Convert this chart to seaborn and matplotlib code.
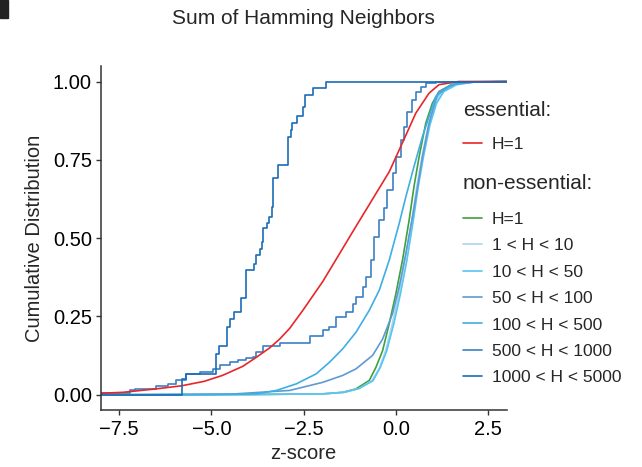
import matplotlib
matplotlib.use('Agg')
import matplotlib.pyplot as plt
import seaborn as sns
from matplotlib.lines import Line2D
from matplotlib.patches import Rectangle

# values (z-score, cumulative fraction)
ess_h1_x = [-8.0, -7.4, -6.5, -5.8, -5.2, -4.7, -4.15, -3.78, -3.42, -3.15, -2.88, -2.52, -1.98,
            -1.53, -1.08, -0.63, -0.18, 0.18, 0.54, 0.90, 1.17, 1.7, 3.0]
ess_h1_y = [0.005, 0.008, 0.019, 0.029, 0.043, 0.062, 0.091, 0.120, 0.150, 0.178, 0.212, 0.270, 0.362,
            0.450, 0.538, 0.625, 0.712, 0.805, 0.899, 0.963, 0.99, 1.0, 1.0]

non_h1_x = [-8.0, -4.0, -1.98, -1.44, -1.08, -0.72, -0.54, -0.36, -0.18, 0.0, 0.18, 0.36, 0.49,
            0.63, 0.81, 0.99, 1.17, 1.5, 2.0, 3.0]
non_h1_y = [0.0, 0.001, 0.003, 0.008, 0.019, 0.046, 0.088, 0.141, 0.227, 0.323, 0.430, 0.558, 0.664,
            0.760, 0.867, 0.931, 0.968, 0.99, 0.998, 1.0]

h1_10_x = [-8.0, -4.0, -2.0, -1.4, -1.0, -0.65, -0.45, -0.28, -0.10, 0.08, 0.25, 0.43, 0.56,
           0.70, 0.88, 1.06, 1.25, 1.6, 2.1, 3.0]
h1_10_y = [0.0, 0.001, 0.003, 0.008, 0.020, 0.045, 0.085, 0.140, 0.225, 0.320, 0.430, 0.555, 0.660,
           0.755, 0.860, 0.930, 0.968, 0.99, 0.998, 1.0]

h10_50_x = [-8.0, -4.0, -2.0, -1.4, -1.0, -0.62, -0.42, -0.25, -0.06, 0.12, 0.30, 0.47, 0.60,
            0.74, 0.92, 1.10, 1.30, 1.65, 2.1, 3.0]
h10_50_y = [0.0, 0.001, 0.003, 0.008, 0.020, 0.045, 0.088, 0.140, 0.225, 0.320, 0.430, 0.555, 0.660,
            0.755, 0.860, 0.930, 0.968, 0.99, 0.998, 1.0]

h50_100_x = [-8.0, -4.5, -2.88, -1.98, -1.44, -1.08, -0.63, -0.36, -0.09, 0.09, 0.27, 0.45, 0.59,
             0.72, 0.90, 1.08, 1.17, 1.6, 2.2, 3.0]
h50_100_y = [0.0, 0.002, 0.014, 0.040, 0.062, 0.083, 0.126, 0.178, 0.259, 0.344, 0.451, 0.568, 0.664,
             0.760, 0.867, 0.941, 0.968, 0.992, 0.999, 1.0]

h100_500_x = [-8.0, -5.0, -3.78, -3.24, -2.70, -2.16, -1.80, -1.44, -1.08, -0.72, -0.45, -0.18, 0.09,
              0.27, 0.49, 0.72, 1.08, 1.5, 2.0, 3.0]
h100_500_y = [0.0, 0.001, 0.003, 0.014, 0.035, 0.067, 0.104, 0.147, 0.200, 0.270, 0.334, 0.430, 0.547,
              0.632, 0.728, 0.824, 0.952, 0.99, 0.999, 1.0]

# step curves: position of each jump and value after it
h500_1000_x = [-8.0, -7.21, -7.07, -6.49, -6.17, -5.95, -5.68, -5.32, -4.96, -4.78, -4.51, -4.28, -4.05,
               -3.88, -3.78, -3.60, -3.15, -2.66, -2.34, -1.98, -1.80, -1.62, -1.35, -1.17, -1.08,
               -0.90, -0.81, -0.68, -0.59, -0.45, -0.32, -0.23, -0.09, 0.0, 0.135, 0.225, 0.315,
               0.45, 0.54, 0.68, 0.81, 1.08, 3.0]
h500_1000_y = [0.005, 0.014, 0.019, 0.027, 0.035, 0.046, 0.067, 0.072, 0.083, 0.094, 0.104, 0.110, 0.117,
               0.120, 0.136, 0.155, 0.165, 0.165, 0.187, 0.206, 0.216, 0.248, 0.264, 0.291, 0.312,
               0.344, 0.376, 0.430, 0.504, 0.558, 0.595, 0.654, 0.707, 0.760, 0.814, 0.856, 0.904,
               0.941, 0.968, 0.984, 0.995, 1.0, 1.0]

h1000_5000_x = [-8.0, -5.81, -5.68, -4.88, -4.80, -4.57, -4.51, -4.40, -4.19, -4.05, -3.86, -3.78, -3.69,
                -3.64, -3.60, -3.50, -3.44, -3.37, -3.33, -3.20, -2.93, -2.84, -2.82, -2.69, -2.52,
                -2.47, -2.25, -1.89, 3.0]
h1000_5000_y = [0.0, 0.051, 0.065, 0.131, 0.155, 0.216, 0.243, 0.264, 0.310, 0.398, 0.419, 0.446, 0.466,
                0.488, 0.531, 0.550, 0.568, 0.600, 0.691, 0.733, 0.824, 0.845, 0.867, 0.890, 0.920,
                0.957, 0.979, 1.0, 1.0]

nonessential_labels = ['H=1', '1 < H < 10', '10 < H < 50', '50 < H < 100', '100 < H < 500',
                       '500 < H < 1000', '1000 < H < 5000']
nonessential_colors = ['#3DA03D', '#A9D5F0', '#56C5F0', '#5E9AD3', '#3FAEE3', '#3C80C4', '#1A6DB5']
essential_color = '#E8262A'

sns.set_style('ticks')
plt.rcParams['font.family'] = ['Liberation Sans', 'DejaVu Sans']

W, H = 642, 467
fig = plt.figure(figsize=(W / 100, H / 100), dpi=100)
ax = fig.add_axes([0.157, 0.121, 0.632, 0.738])

smooth = [(non_h1_x, non_h1_y), (h1_10_x, h1_10_y), (h10_50_x, h10_50_y),
          (h50_100_x, h50_100_y), (h100_500_x, h100_500_y)]
lw = 1.2
for (xs, ys), c in zip(smooth, nonessential_colors[:5]):
    sns.lineplot(x=xs, y=ys, color=c, lw=lw, ax=ax, sort=False, estimator=None)
sns.lineplot(x=h500_1000_x, y=h500_1000_y, color=nonessential_colors[5], lw=lw, ax=ax,
             drawstyle='steps-post', sort=False, estimator=None)
sns.lineplot(x=ess_h1_x, y=ess_h1_y, color=essential_color, lw=lw, ax=ax, sort=False, estimator=None)
sns.lineplot(x=h1000_5000_x, y=h1000_5000_y, color=nonessential_colors[6], lw=lw, ax=ax,
             drawstyle='steps-post', sort=False, estimator=None)

ax.set_xlim(-8, 3)
ax.set_ylim(-0.05, 1.05)
ax.set_xticks([-7.5, -5.0, -2.5, 0.0, 2.5])
ax.set_yticks([0.0, 0.25, 0.5, 0.75, 1.0])
ax.set_xticklabels(['\u22127.5', '\u22125.0', '\u22122.5', '0.0', '2.5'])
ax.set_yticklabels(['0.00', '0.25', '0.50', '0.75', '1.00'])
ax.tick_params(labelsize=14.5, length=3.5, width=1.0, color='#333333', labelcolor='black', pad=3)
for s in ['left', 'bottom']:
    ax.spines[s].set_color('#333333')
    ax.spines[s].set_linewidth(1.1)
sns.despine(ax=ax)
ax.set_xlabel('z-score', fontsize=14.5, labelpad=4)
ax.set_ylabel('Cumulative Distribution', fontsize=14.5, labelpad=6)
ax.set_title('Sum of Hamming Neighbors', fontsize=15, pad=30)

# legend headers and entries
lx = 463 / W
fig.text(lx, 1 - 116 / H, 'essential:', fontsize=15, va='baseline', ha='left')
fig.text(lx, 1 - 189 / H, 'non-essential:', fontsize=15, va='baseline', ha='left')

h_ess = [Line2D([], [], color=essential_color, lw=lw)]
fig.legend(h_ess, ['H=1'], loc='center left', bbox_to_anchor=(lx, 1 - 144 / H),
           frameon=False, fontsize=12.5, handlelength=1.1, handletextpad=0.55,
           borderpad=0, borderaxespad=0)
h_non = [Line2D([], [], color=c, lw=lw) for c in nonessential_colors]
fig.legend(h_non, nonessential_labels, loc='center left', bbox_to_anchor=(lx, 1 - 298.5 / H),
           frameon=False, fontsize=12.5, handlelength=1.1, handletextpad=0.55, labelspacing=0.65,
           borderpad=0, borderaxespad=0)

fig.patches.append(Rectangle((0, 1 - 18 / H), 8 / W, 18 / H, transform=fig.transFigure,
                             color='#222222', zorder=5))

fig.savefig('out.png', dpi=100)
